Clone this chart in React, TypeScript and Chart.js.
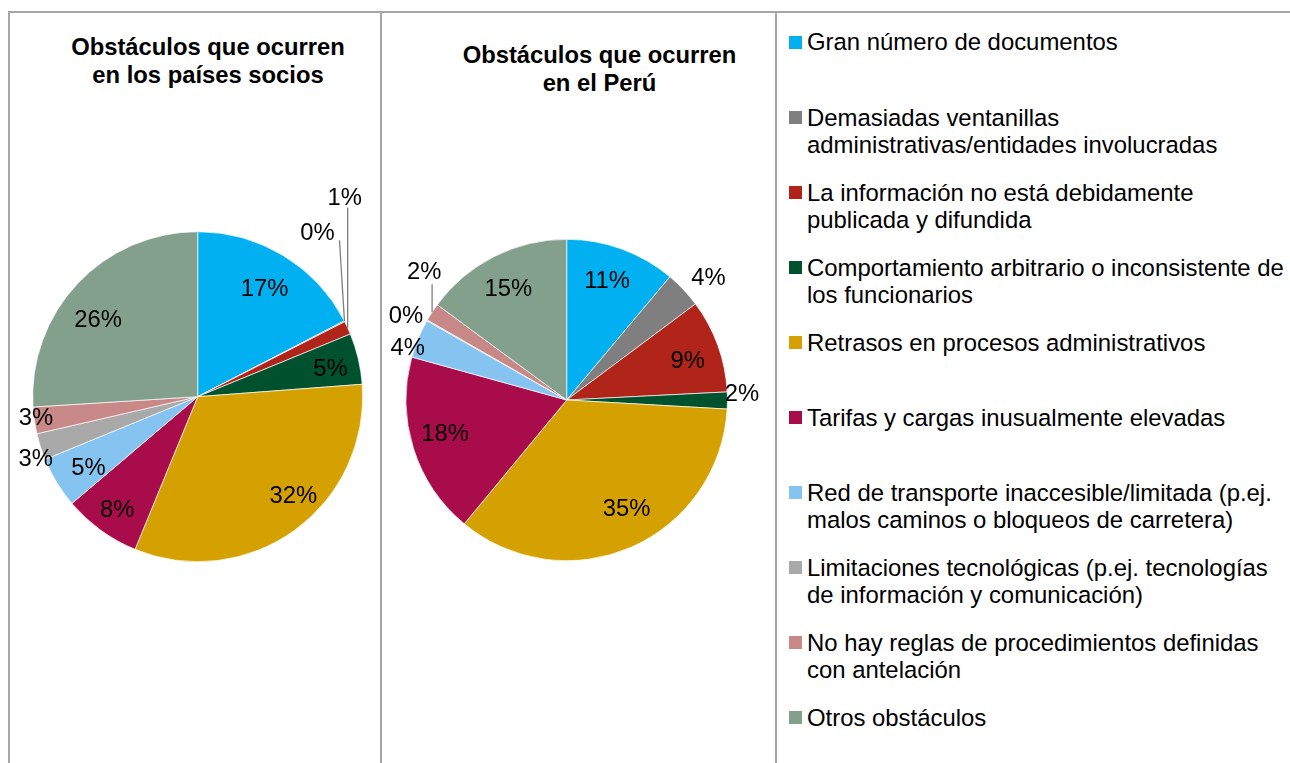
import React, { useEffect, useRef } from "react";
import { Chart, registerables } from "chart.js";

Chart.register(...registerables);

// ---------- data ----------
const categories: string[][] = [
  ["Gran número de documentos"],
  ["Demasiadas ventanillas", "administrativas/entidades involucradas"],
  ["La información no está debidamente", "publicada y difundida"],
  ["Comportamiento arbitrario o inconsistente de", "los funcionarios"],
  ["Retrasos en procesos administrativos"],
  ["Tarifas y cargas inusualmente elevadas"],
  ["Red de transporte inaccesible/limitada (p.ej.", "malos caminos o bloqueos de carretera)"],
  ["Limitaciones tecnológicas (p.ej. tecnologías", "de información y comunicación)"],
  ["No hay reglas de procedimientos definidas", "con antelación"],
  ["Otros obstáculos"],
];

const sociosValues = [17.4, 0.1, 1.3, 5.0, 32.4, 7.6, 5.0, 2.6, 2.6, 26.0];
const peruValues = [11.1, 3.7, 9.4, 1.7, 35.1, 18.3, 3.9, 0.1, 1.8, 14.9];

const sociosTitle = ["Obstáculos que ocurren", "en los países socios"];
const peruTitle = ["Obstáculos que ocurren", "en el Perú"];

// ---------- styles ----------
const sliceColors = [
  "#00B0F0",
  "#7F7F7F",
  "#B1241A",
  "#00522F",
  "#D4A100",
  "#A80C4B",
  "#85C4F0",
  "#A9A9A9",
  "#C98888",
  "#83A08D",
];

const FONT = '"Liberation Sans", Arial, Helvetica, sans-serif';

// label radius factors (fraction of the outer radius), per slice
const sociosLabelR = [0.78, 1, 1, 0.82, 0.82, 0.84, 0.79, 1.05, 0.99, 0.77];
const peruLabelR = [0.79, 1.17, 0.8, 1.09, 0.76, 0.78, 1.05, 1.13, 1, 0.79];
// small pixel nudges of the labels (best-fit placement)
const sociosNudge: number[][] = [
  [0, 2], [0, 0], [0, 0], [1, 3], [16, -11], [1, 1], [2, 3], [3, 9], [0, -3], [-7, 10],
];
const peruNudge: number[][] = [
  [-3, 0], [5, 7], [0, 4], [0, -7], [11, -4], [-2, -4], [-3, 12], [-3, 5], [0, 0], [-1, 2],
];

type Callout = { dx: number; dy: number; lx: number; ly: number };
// label offsets (from arc edge) for labels with leader lines
const sociosCallouts: Record<number, Callout> = {
  1: { dx: -27, dy: -89, lx: 22, ly: 8 },
  2: { dx: -3, dy: -130, lx: 3, ly: 10 },
};
const peruCallouts: Record<number, Callout> = {
  8: { dx: -8, dy: -41, lx: 8, ly: 13 },
};

const labelPlugin = {
  id: "pieLabels",
  afterDatasetsDraw(chart: any, _args: any, opts: any) {
    const { ctx } = chart;
    const meta = chart.getDatasetMeta(0);
    const values: number[] = chart.data.datasets[0].data;
    const labelR: number[] = opts.labelR || [];
    const nudge: number[][] = opts.nudge || [];
    const callouts: Record<number, Callout> = opts.callouts || {};
    ctx.save();
    ctx.font = `23.8px ${FONT}`;
    ctx.textAlign = "center";
    ctx.textBaseline = "middle";
    meta.data.forEach((el: any, i: number) => {
      const { x, y, startAngle, endAngle, outerRadius } = el.getProps(
        ["x", "y", "startAngle", "endAngle", "outerRadius"],
        true
      );
      const mid = (startAngle + endAngle) / 2;
      const text = Math.round(values[i]) + "%";
      const c = callouts[i];
      if (c) {
        const ex = x + outerRadius * Math.cos(mid);
        const ey = y + outerRadius * Math.sin(mid);
        const tx = ex + c.dx;
        const ty = ey + c.dy;
        ctx.strokeStyle = "#7F7F7F";
        ctx.lineWidth = 1.3;
        ctx.beginPath();
        ctx.moveTo(ex, ey);
        ctx.lineTo(tx + c.lx, ty + c.ly);
        ctx.stroke();
        ctx.fillStyle = "#000";
        ctx.fillText(text, tx, ty + 1);
      } else {
        const f = labelR[i] ?? 0.8;
        const n = nudge[i] || [0, 0];
        const tx = x + outerRadius * f * Math.cos(mid) + n[0];
        const ty = y + outerRadius * f * Math.sin(mid) + n[1];
        ctx.fillStyle = "#000";
        ctx.fillText(text, tx, ty + 1);
      }
    });
    ctx.restore();
  },
};

type PieProps = {
  values: number[];
  left: number;
  top: number;
  width: number;
  height: number;
  cx: number;
  cy: number;
  r: number;
  labelR: number[];
  nudge: number[][];
  callouts: Record<number, Callout>;
};

function PieCanvas(p: PieProps) {
  const ref = useRef<HTMLCanvasElement>(null);
  useEffect(() => {
    const lx = p.cx - p.left;
    const ly = p.cy - p.top;
    const chart = new Chart(ref.current as HTMLCanvasElement, {
      type: "pie",
      data: {
        labels: categories.map((c) => c.join(" ")),
        datasets: [
          {
            data: p.values,
            backgroundColor: sliceColors,
            borderColor: "rgba(255,255,255,0.85)",
            borderWidth: 0.8,
            radius: p.r,
          } as any,
        ],
      },
      options: {
        responsive: false,
        animation: false,
        devicePixelRatio: 1,
        layout: {
          padding: {
            left: lx - p.r,
            right: p.width - lx - p.r,
            top: ly - p.r,
            bottom: p.height - ly - p.r,
          },
        },
        plugins: {
          legend: { display: false },
          tooltip: { enabled: false },
          pieLabels: { labelR: p.labelR, nudge: p.nudge, callouts: p.callouts },
        } as any,
      },
      plugins: [labelPlugin],
    });
    return () => chart.destroy();
  }, []);
  return (
    <canvas
      ref={ref}
      width={p.width}
      height={p.height}
      style={{ position: "absolute", left: p.left, top: p.top, width: p.width, height: p.height }}
    />
  );
}

function Title({ lines, centerX, top }: { lines: string[]; centerX: number; top: number }) {
  return (
    <div
      style={{
        position: "absolute",
        left: centerX - 200,
        width: 400,
        top,
        textAlign: "center",
        fontFamily: FONT,
        fontWeight: "bold",
        fontSize: "23.8px",
        lineHeight: "28px",
        color: "#000",
        whiteSpace: "nowrap",
      }}
    >
      {lines.map((l, i) => (
        <div key={i}>{l}</div>
      ))}
    </div>
  );
}

function Legend() {
  return (
    <>
      {categories.map((lines, i) => {
        const yc = 42 + i * 75.1;
        return (
          <React.Fragment key={i}>
            <div
              style={{
                position: "absolute",
                left: 789,
                top: yc - 6.5,
                width: 13,
                height: 13,
                background: sliceColors[i],
              }}
            />
            <div
              style={{
                position: "absolute",
                left: 807,
                top: yc - 13.6,
                fontFamily: FONT,
                fontSize: "23.9px",
                lineHeight: "27.3px",
                color: "#000",
                whiteSpace: "nowrap",
              }}
            >
              {lines.map((l, j) => (
                <div key={j}>{l}</div>
              ))}
            </div>
          </React.Fragment>
        );
      })}
    </>
  );
}

export default function App() {
  const line = "#A6A6A6";
  return (
    <div
      style={{
        position: "absolute",
        left: 0,
        top: 0,
        width: 1290,
        height: 763,
        overflow: "hidden",
        background: "#fff",
      }}
    >
      {/* frame lines */}
      <div style={{ position: "absolute", left: 8, top: 11, width: 1282, height: 2, background: line }} />
      <div style={{ position: "absolute", left: 8, top: 11, width: 2, height: 752, background: line }} />
      <div style={{ position: "absolute", left: 380, top: 11, width: 2, height: 752, background: line }} />
      <div style={{ position: "absolute", left: 775, top: 11, width: 2, height: 752, background: line }} />

      <Title lines={sociosTitle} centerX={208} top={33} />
      <Title lines={peruTitle} centerX={599.5} top={41} />

      <PieCanvas
        values={sociosValues}
        left={10}
        top={13}
        width={370}
        height={750}
        cx={197.7}
        cy={396.7}
        r={165}
        labelR={sociosLabelR}
        nudge={sociosNudge}
        callouts={sociosCallouts}
      />
      <PieCanvas
        values={peruValues}
        left={382}
        top={13}
        width={393}
        height={750}
        cx={566.7}
        cy={400}
        r={160.7}
        labelR={peruLabelR}
        nudge={peruNudge}
        callouts={peruCallouts}
      />

      <Legend />
    </div>
  );
}
